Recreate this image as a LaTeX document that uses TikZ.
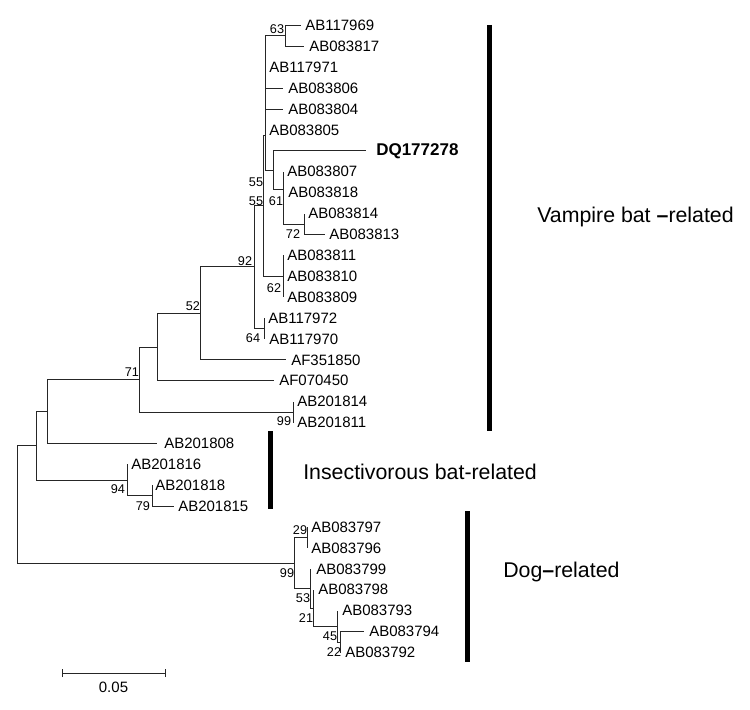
\documentclass[tikz,border=0pt]{standalone}
\usepackage{fontspec}
\setmainfont{Liberation Sans}
\newcommand\leafx[5]{\coordinate (#1) at (#2,#3); \node[leaf] (#1t) at (#4,#3) {#5};}
\begin{document}
\begin{tikzpicture}[x=0.75pt,y=-0.75pt,
  leaf/.style={anchor=west, inner sep=0pt, font=\fontsize{11.25}{12}\selectfont},
  boot/.style={inner sep=0pt, font=\fontsize{9.5}{10}\selectfont},
  grp/.style={anchor=west, inner sep=0pt, font=\fontsize{16}{18}\selectfont},
  groupbar/.style={line width=3.75pt, black},
  br/.style={draw=black!85, line width=0.75pt}]
\useasboundingbox (0,0) rectangle (750,710);
% leaves
\leafx{l0}{301}{25.5}{305}{AB117969}
\leafx{l1}{304}{46.4}{309}{AB083817}
\leafx{l2}{265}{67.3}{269}{AB117971}
\leafx{l3}{283}{88.2}{288}{AB083806}
\leafx{l4}{283}{109.1}{288}{AB083804}
\leafx{l5}{265}{130}{269}{AB083805}
\coordinate (l6) at (366,150.9);
\node[anchor=west, inner sep=0pt, font=\fontsize{12.75}{14}\selectfont\bfseries] (l6t) at (376,150.9) {DQ177278};
\leafx{l7}{283}{171.8}{287}{AB083807}
\leafx{l8}{283}{192.7}{288}{AB083818}
\leafx{l9}{304}{213.6}{308}{AB083814}
\leafx{l10}{325}{234.5}{329}{AB083813}
\leafx{l11}{283}{255.4}{287}{AB083811}
\leafx{l12}{283}{276.3}{287}{AB083810}
\leafx{l13}{283}{297.2}{287}{AB083809}
\leafx{l14}{264}{318.1}{268}{AB117972}
\leafx{l15}{264}{339}{269}{AB117970}
\leafx{l16}{286}{359.9}{291}{AF351850}
\leafx{l17}{274}{380.8}{279}{AF070450}
\leafx{l18}{293}{401.7}{297}{AB201814}
\leafx{l19}{293}{422.6}{297}{AB201811}
\leafx{l20}{157}{443.5}{164}{AB201808}
\leafx{l21}{127}{464.4}{131}{AB201816}
\leafx{l22}{152}{485.3}{155}{AB201818}
\leafx{l23}{174}{506.2}{178}{AB201815}
\leafx{l24}{307}{527.1}{311}{AB083797}
\leafx{l25}{307}{548}{311}{AB083796}
\leafx{l26}{310}{568.9}{316}{AB083799}
\leafx{l27}{313}{589.8}{318}{AB083798}
\leafx{l28}{337}{610.7}{342}{AB083793}
\leafx{l29}{364}{631.6}{369}{AB083794}
\leafx{l30}{340}{652.5}{345}{AB083792}
% internal nodes
\coordinate (N63) at (285,36);
\coordinate (UG) at (265,135);
\coordinate (N55a) at (273,170);
\coordinate (N61) at (283,189);
\coordinate (N72) at (304,224);
\coordinate (N55b) at (263,205.4);
\coordinate (N62) at (283,276.3);
\coordinate (N92a) at (254,266.8);
\coordinate (N64) at (264,328.5);
\coordinate (N92) at (200,313.4);
\coordinate (N52) at (157,347);
\coordinate (N99v) at (293,412.1);
\coordinate (N71) at (139,379.5);
\coordinate (N47) at (47,411.5);
\coordinate (N79) at (152,495.75);
\coordinate (N94) at (127,480);
\coordinate (N36) at (36,445.75);
\coordinate (N22) at (340,642.05);
\coordinate (N45) at (337,626.4);
\coordinate (N21) at (313,608.1);
\coordinate (N53) at (310,588.5);
\coordinate (N29) at (307,537.55);
\coordinate (N99d) at (294,563);
\coordinate (root) at (17,504.4);
% branches
\draw[br] (N63) |- (l0) (N63) |- (l1)
  (UG) |- (N63) (UG) |- (l2) (UG) |- (l3) (UG) |- (l4) (UG) |- (l5) (UG) |- (N55a)
  (N55a) |- (l6) (N55a) |- (N61)
  (N61) |- (l7) (N61) |- (l8) (N61) |- (N72)
  (N72) |- (l9) (N72) |- (l10)
  (N55b) |- (UG) (N55b) |- (N62)
  (N62) |- (l11) (N62) |- (l12) (N62) |- (l13)
  (N92a) |- (N55b) (N92a) |- (N64)
  (N64) |- (l14) (N64) |- (l15)
  (N92) |- (N92a) (N92) |- (l16)
  (N52) |- (N92) (N52) |- (l17)
  (N71) |- (N52) (N71) |- (N99v)
  (N99v) |- (l18) (N99v) |- (l19)
  (N47) |- (N71) (N47) |- (l20)
  (N36) |- (N47) (N36) |- (N94)
  (N94) |- (l21) (N94) |- (N79)
  (N79) |- (l22) (N79) |- (l23)
  (root) |- (N36) (root) |- (N99d)
  (N99d) |- (N29) (N99d) |- (N53)
  (N29) |- (l24) (N29) |- (l25)
  (N53) |- (l26) (N53) |- (N21)
  (N21) |- (l27) (N21) |- (N45)
  (N45) |- (l28) (N45) |- (N22)
  (N22) |- (l29) (N22) |- (l30);
% bootstrap values
\node[boot] (b63) at (277,29) {63};
\node[boot] (b55a) at (256,182) {55};
\node[boot] (b55b) at (256,201) {55};
\node[boot] (b61) at (276,201) {61};
\node[boot] (b72) at (293,234) {72};
\node[boot] (b62) at (274,288) {62};
\node[boot] (b92) at (245,261) {92};
\node[boot] (b64) at (253,338) {64};
\node[boot] (b52) at (193,306) {52};
\node[boot] (b71) at (132,372) {71};
\node[boot] (b99v) at (284,421) {99};
\node[boot] (b94) at (118,489) {94};
\node[boot] (b79) at (143,506) {79};
\node[boot] (b29) at (300,530) {29};
\node[boot] (b99d) at (287,573) {99};
\node[boot] (b53) at (303,598) {53};
\node[boot] (b21) at (306,618) {21};
\node[boot] (b45) at (330,636) {45};
\node[boot] (b22) at (334,652) {22};
% group bars and labels
\coordinate (vb1) at (489,25); \coordinate (vb2) at (489,431);
\coordinate (ib1) at (270,431); \coordinate (ib2) at (270,509);
\coordinate (db1) at (467,511); \coordinate (db2) at (467,662);
\draw[groupbar] (vb1) -- (vb2);
\draw[groupbar] (ib1) -- (ib2);
\draw[groupbar] (db1) -- (db2);
\node[grp] (gv) at (537,217) {Vampire bat {\bfseries –}related};
\node[grp] (gi) at (303,472) {Insectivorous bat-related};
\node[grp] (gd) at (503,572) {Dog{\bfseries –}related};
% scale bar
\coordinate (s1) at (62,673); \coordinate (s2) at (165,673);
\draw[br] (s1) -- (s2);
\draw[br] ([yshift=-3pt]s1) -- ([yshift=3pt]s1);
\draw[br] ([yshift=-3pt]s2) -- ([yshift=3pt]s2);
\node[leaf, anchor=center] (sl) at (113.5,687) {0.05};
\end{tikzpicture}
\end{document}
